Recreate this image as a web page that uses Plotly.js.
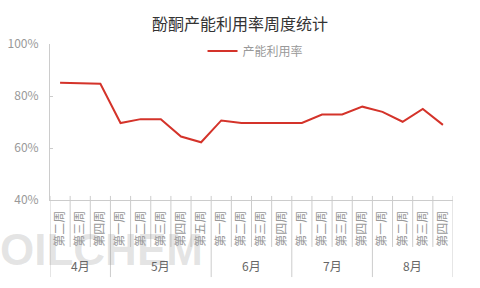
<!DOCTYPE html>
<html><head><meta charset="utf-8">
<script src="https://cdn.plot.ly/plotly-3.0.1.min.js"></script>
<style>html,body{margin:0;padding:0;background:#fff}#chart{width:480px;height:288px}</style>
</head><body><div id="chart"></div>
<script>
const months = ["4月","4月","4月","5月","5月","5月","5月","5月","6月","6月","6月","6月","7月","7月","7月","7月","8月","8月","8月","8月"];
const weeks = ["第二周","第三周","第四周","第一周","第二周","第三周","第四周","第五周","第一周","第二周","第三周","第四周","第一周","第二周","第三周","第四周","第一周","第二周","第三周","第四周"];
const utilization = [85.1,85.0,84.7,69.6,71.1,71.1,64.4,62.2,70.6,69.6,69.6,69.6,69.6,72.9,72.9,75.9,73.9,70.1,75.0,68.9];

const F = '"Noto Sans CJK SC", "Noto Sans", sans-serif';
const idx = weeks.map((w, i) => i);
const shapes = [];
const annotations = [{text:'<b>OILCHEM</b>', xref:'paper', yref:'paper', x:0.129, xanchor:'center', y:-0.32, yanchor:'middle',
  showarrow:false, font:{family:'"Liberation Sans Narrow", "Liberation Sans", sans-serif', size:44, color:'rgba(160,160,160,0.28)'}}];
let groupStart = 0;
for (let i = 0; i <= weeks.length; i++) {
  const isMonth = i === 0 || i === weeks.length || months[i] !== months[i-1];
  shapes.push({type:'line', xref:'x', yref:'paper', x0:i-0.5, x1:i-0.5, y0:0, y1:isMonth?-0.494:-0.301,
    line:{color:'#cccccc', width:1}});
  shapes.push({type:'line', xref:'x', yref:'paper', x0:i-0.5, x1:i-0.5, y0:0, y1:0.026,
    line:{color:'#cccccc', width:1}});
  if (isMonth && i > 0) {
    annotations.push({text:months[i-1], xref:'x', yref:'paper', x:(groupStart + i - 1)/2, y:-0.423,
      xanchor:'center', yanchor:'middle', showarrow:false, font:{family:F, size:12, color:'#666'}});
    groupStart = i;
  }
}

const data = [{
  type:'scatter', mode:'lines', name:'产能利用率',
  x:idx, y:utilization,
  line:{color:'#d4332a', width:2}
}];
const layout = {
  width:480, height:288,
  margin:{l:50, r:27, t:44, b:88},
  paper_bgcolor:'#fff', plot_bgcolor:'#fff',
  font:{family:F, color:'#999', size:12},
  title:{text:'酚酮产能利用率周度统计', x:0.5, xanchor:'center', y:0.917, yanchor:'middle', font:{family:F, size:16, color:'#333'}},
  showlegend:true,
  legend:{orientation:'h', x:0.51, xanchor:'center', y:0.955, yanchor:'middle', font:{family:F, size:12, color:'#999'}, bgcolor:'rgba(0,0,0,0)'},
  xaxis:{range:[-0.5, weeks.length-0.5], tickmode:'array', tickvals:idx, ticktext:weeks,
    showline:true, linecolor:'#cccccc', linewidth:1, ticks:'', showgrid:false, zeroline:false,
    tickangle:-90, ticklabelstandoff:5, tickfont:{family:F, size:12, color:'#999'}},
  yaxis:{range:[40,100], dtick:20, ticksuffix:'%', showline:true, linecolor:'#cccccc', linewidth:1,
    ticks:'inside', ticklen:3, tickcolor:'#cccccc', showgrid:false, zeroline:false,
    ticklabelstandoff:8, tickfont:{family:F, size:12, color:'#999'}},
  shapes:shapes,
  annotations:annotations
};
Plotly.newPlot('chart', data, layout, {displayModeBar:false, staticPlot:true});
</script></body></html>
